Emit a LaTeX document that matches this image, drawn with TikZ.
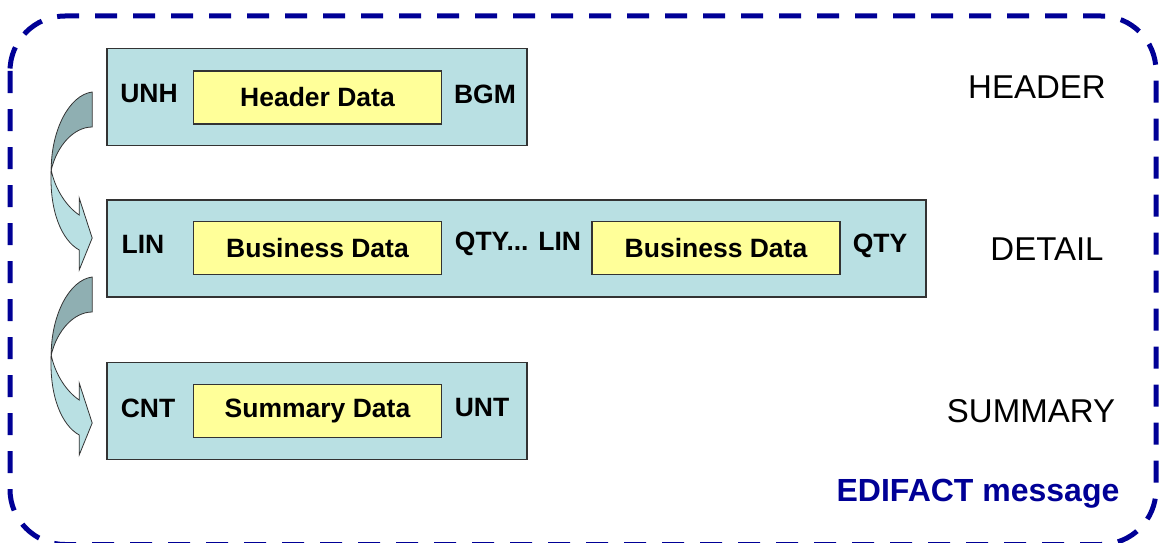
\documentclass[tikz,border=0pt]{standalone}
\usepackage{fontspec}
\setmainfont{Liberation Sans}
\usetikzlibrary{calc}

\definecolor{edinavy}{HTML}{000096}
\definecolor{segfill}{HTML}{B9E0E3}
\definecolor{datafill}{HTML}{FFFF99}
\definecolor{edgegrey}{HTML}{333333}
\definecolor{bandback}{HTML}{8FAFB2}

\tikzset{
  segment/.style={draw=edgegrey, line width=1.6pt, fill=segfill, minimum height=97pt, inner sep=0pt},
  datablock/.style={draw=edgegrey, line width=1.6pt, fill=datafill, minimum width=248pt, minimum height=53pt, inner sep=0pt,
                    font=\fontsize{26.5}{30}\selectfont\bfseries},
  tag/.style={font=\fontsize{26.5}{30}\selectfont\bfseries, inner sep=0pt},
  level/.style={font=\fontsize{33}{38}\selectfont, inner sep=0pt},
  pics/bentarrow/.style={code={
    % back face of the ribbon
    \filldraw[fill=bandback, draw=edgegrey, line width=0.8pt]
      (0,0) .. controls (-23,3) and (-41,38) .. (-41,78)
            .. controls (-35,53) and (-18,35) .. (0,35) -- cycle;
    % front face with the arrow head
    \filldraw[fill=segfill, draw=edgegrey, line width=0.8pt]
      (-41,78) .. controls (-37,98) and (-25,115) .. (-13,123)
        -- (-13,106) -- (0,146) -- (-13,178) -- (-13,158)
        .. controls (-31,148) and (-43,118) .. (-41,78) -- cycle;
  }}
}

\begin{document}
\begin{tikzpicture}[x=1pt, y=-1pt]
  \useasboundingbox (0,0) rectangle (1159,543);
  \clip (0,0) rectangle (1159,543);

  % message frame
  \draw[edinavy, line width=5pt, dash pattern=on 22pt off 16pt, rounded corners=55pt]
    (10,16) rectangle (1156,544.5);

  % header segment group
  \node[segment, minimum width=420pt] (hdr) at (317,97) {};
  \node[datablock] (hdrdata) at (317.5,97.5) {Header Data};
  \node[tag] (unh) at (149,94) {UNH};
  \node[tag] (bgm) at (485,94) {BGM};

  % detail segment group
  \node[segment, minimum width=819pt] (det) at (516.5,248.5) {};
  \node[datablock] (bus1) at (317.5,248) {Business Data};
  \node[datablock] (bus2) at (716,248) {Business Data};
  \node[tag] (lin) at (143,244) {LIN};
  \node[tag] (qtylin) at (518,244) {QTY... LIN};
  \node[tag] (qty) at (880,246) {QTY};

  % summary segment group
  \node[segment, minimum width=420pt] (sum) at (317,411) {};
  \node[datablock] (sumdata) at (317.5,411) {Summary Data};
  \node[tag] (cnt) at (148,408) {CNT};
  \node[tag] (unt) at (482,408) {UNT};

  % section labels
  \node[level] (lhdr) at (1037,87) {HEADER};
  \node[level] (ldet) at (1047,249) {DETAIL};
  \node[level] (lsum) at (1031,411) {SUMMARY};
  \node[font=\fontsize{32}{36}\selectfont\bfseries, text=edinavy, inner sep=0pt] (msg) at (978,494) {EDIFACT message};

  % flow arrows between the groups
  \pic at ($(hdr.west)+(-14,-5)$) {bentarrow};
  \pic at ($(det.west)+(-14,28.5)$) {bentarrow};
\end{tikzpicture}
\end{document}
